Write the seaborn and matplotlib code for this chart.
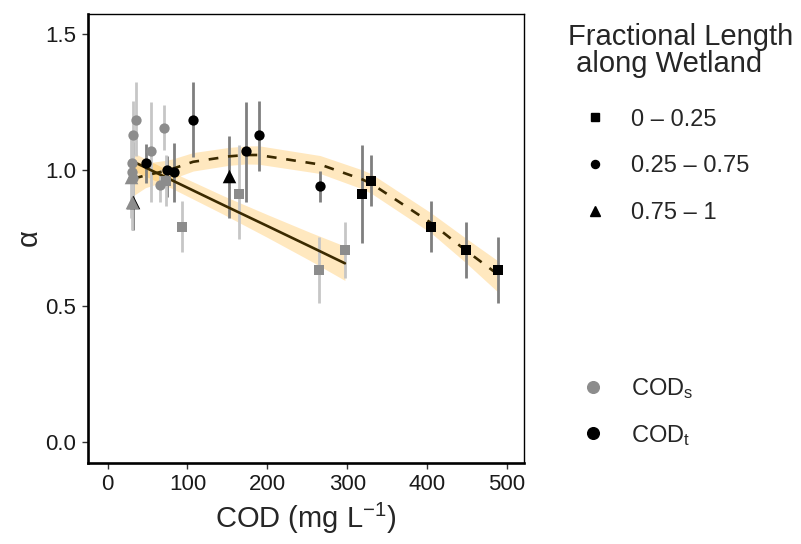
import matplotlib
matplotlib.use("Agg")
import matplotlib.pyplot as plt
from matplotlib.lines import Line2D
import pandas as pd
import seaborn as sns

# ---------------------------------------------------------------------------
# Data
# ---------------------------------------------------------------------------
# soluble COD (grey points)
S_COD = [35, 31.7, 71, 54, 30, 30.5, 31.5, 66, 29, 30, 72.5, 93, 165, 265, 297]
S_ALPHA = [1.184, 1.127, 1.156, 1.068, 1.025, 0.994, 0.972, 0.945, 0.976, 0.884,
           0.958, 0.792, 0.912, 0.632, 0.705]
S_LO = [1.05, 0.998, 1.074, 0.884, 0.952, 0.884, 0.88, 0.884, 0.823, 0.779,
        0.866, 0.697, 0.745, 0.511, 0.602]
S_HI = [1.322, 1.254, 1.24, 1.248, 1.096, 1.098, 1.06, 1.0, 1.126, 1.104,
        1.056, 0.886, 1.09, 0.753, 0.807]
S_FRAC = ["0.25 – 0.75"] * 8 + ["0.75 – 1"] * 2 + ["0 – 0.25"] * 5

# total COD (black points)
T_COD = [32, 47.5, 74.5, 83, 107, 152, 173, 189, 266, 319, 330, 405, 448, 489]
T_ALPHA = [0.884, 1.025, 1.0, 0.992, 1.184, 0.978, 1.068, 1.127, 0.941, 0.912,
           0.959, 0.79, 0.705, 0.632]
T_LO = [0.779, 0.952, 0.90, 0.884, 1.048, 0.823, 0.884, 0.998, 0.884, 0.731,
        0.866, 0.697, 0.602, 0.511]
T_HI = [1.104, 1.096, 1.05, 1.098, 1.322, 1.126, 1.248, 1.254, 0.997, 1.093,
        1.056, 0.887, 0.807, 0.753]
T_FRAC = ["0.75 – 1", "0.25 – 0.75", "0.25 – 0.75", "0.25 – 0.75", "0.25 – 0.75",
          "0.75 – 1", "0.25 – 0.75", "0.25 – 0.75", "0.25 – 0.75",
          "0 – 0.25", "0 – 0.25", "0 – 0.25", "0 – 0.25", "0 – 0.25"]

# fitted curves + confidence ribbons
SOLID_X = [29, 80, 145, 200, 254, 297]
SOLID_Y = [1.035, 0.963, 0.871, 0.794, 0.718, 0.657]
SOLID_LO = [1.002, 0.933, 0.837, 0.752, 0.666, 0.594]
SOLID_HI = [1.068, 0.993, 0.905, 0.836, 0.770, 0.720]

DASH_X = [32, 47.5, 74.5, 83, 107, 152, 173, 189, 266, 319, 330, 405, 448, 489]
DASH_Y = [0.968, 0.98, 0.998, 1.006, 1.03, 1.05, 1.055, 1.055, 1.02, 0.965,
          0.95, 0.805, 0.705, 0.615]
DASH_LO = [0.905, 0.935, 0.96, 0.97, 0.996, 1.017, 1.022, 1.021, 0.987, 0.93,
           0.914, 0.768, 0.66, 0.55]
DASH_HI = [1.03, 1.025, 1.036, 1.042, 1.064, 1.083, 1.088, 1.089, 1.053, 1.0,
           0.986, 0.842, 0.75, 0.665]

SHAPE_LABELS = ["0 – 0.25", "0.25 – 0.75", "0.75 – 1"]
SHAPE_MARKERS = {"0 – 0.25": "s", "0.25 – 0.75": "o", "0.75 – 1": "^"}
COD_LABELS = ["COD$_s$", "COD$_t$"]

GREY = "#8c8c8c"
RIBBON = "#ffa500"
LINE = "#3b2a00"

sns.set_theme(style="ticks")
plt.rcParams["font.family"] = ["Liberation Sans", "DejaVu Sans"]
plt.rcParams["mathtext.fontset"] = "custom"
plt.rcParams["mathtext.rm"] = "Liberation Sans"
plt.rcParams["mathtext.it"] = "Liberation Sans:italic"
plt.rcParams["mathtext.default"] = "regular"

soluble = pd.DataFrame({"cod": S_COD, "alpha": S_ALPHA, "lo": S_LO, "hi": S_HI,
                        "frac": S_FRAC})
total = pd.DataFrame({"cod": T_COD, "alpha": T_ALPHA, "lo": T_LO, "hi": T_HI,
                      "frac": T_FRAC})

fig = plt.figure(figsize=(8.01, 5.44), dpi=100)
ax = fig.add_axes([88 / 801, 1 - 462.5 / 544, 436.3 / 801, 449 / 544])

# ribbons
ax.fill_between(SOLID_X, SOLID_LO, SOLID_HI, color=RIBBON, alpha=0.25, lw=0, zorder=1)
ax.fill_between(DASH_X, DASH_LO, DASH_HI, color=RIBBON, alpha=0.25, lw=0, zorder=1)

# error bars
ax.vlines(total["cod"], total["lo"], total["hi"], colors="#7f7f7f", lw=2.0, zorder=2)
ax.vlines(soluble["cod"], soluble["lo"], soluble["hi"], colors="#c6c6c6", lw=2.0, zorder=2)

# fit lines
sns.lineplot(x=SOLID_X, y=SOLID_Y, color=LINE, lw=1.9, ax=ax, zorder=3)
sns.lineplot(x=DASH_X, y=DASH_Y, color=LINE, lw=1.9, ax=ax, zorder=3,
             linestyle=(0, (3.7, 3.7)))

# points: total first, soluble on top
for df, col in [(total, "black"), (soluble, GREY)]:
    for frac, mk in SHAPE_MARKERS.items():
        sub = df[df["frac"] == frac]
        sns.scatterplot(data=sub, x="cod", y="alpha", marker=mk, color=col,
                        s=95 if mk == "^" else 55, linewidth=0, ax=ax,
                        zorder=4, legend=False)

ax.set_xlim(-24.5, 521.5)
ax.set_ylim(-0.075, 1.575)
ax.set_xticks([0, 100, 200, 300, 400, 500])
ax.set_yticks([0.0, 0.5, 1.0, 1.5])
ax.set_yticklabels(["0.0", "0.5", "1.0", "1.5"])
ax.set_xlabel("COD (mg L$^{-1}$)", fontsize=21, labelpad=4)
ax.set_ylabel("α", fontsize=21, labelpad=2)
ax.tick_params(direction="out", length=4.3, width=1.0, color="#333333",
               labelsize=16, labelcolor="#1a1a1a", pad=4, left=True, bottom=True)
for side in ["left", "bottom"]:
    ax.spines[side].set_linewidth(1.9)
for side in ["top", "right"]:
    ax.spines[side].set_linewidth(1.0)
for sp in ax.spines.values():
    sp.set_color("black")
    sp.set_visible(True)

# legends
shape_handles = [
    Line2D([], [], ls="", marker="s", color="black", markersize=5.3),
    Line2D([], [], ls="", marker="o", color="black", markersize=5.8),
    Line2D([], [], ls="", marker="^", color="black", markersize=7.0),
]
leg1 = fig.legend(shape_handles, SHAPE_LABELS, title="Fractional Length\n along Wetland",
                  loc="upper left", bbox_to_anchor=(568 / 801, 1 - 23 / 544),
                  frameon=False, fontsize=17, title_fontsize=21, alignment="left",
                  handlelength=2.3, handletextpad=0.35, labelspacing=1.04,
                  borderpad=0, borderaxespad=0)
leg1.get_title().set_linespacing(0.95)
leg1._legend_box.sep = 1.04 * 17 + 4.5

cod_handles = [
    Line2D([], [], ls="", marker="o", color=GREY, markersize=8.4),
    Line2D([], [], ls="", marker="o", color="black", markersize=8.4),
]
fig.legend(cod_handles, COD_LABELS, loc="upper left",
           bbox_to_anchor=(566 / 801, 1 - 376 / 544), frameon=False, fontsize=17,
           handlelength=2.3, handletextpad=0.45, labelspacing=0.92,
           borderpad=0, borderaxespad=0)

fig.savefig("out.png", dpi=100)
